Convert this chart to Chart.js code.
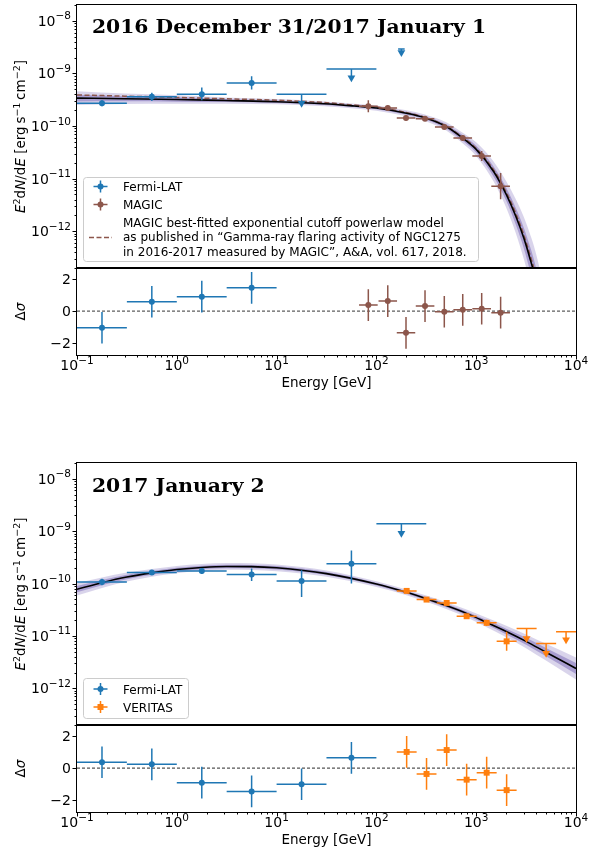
<!DOCTYPE html>
<html>
<head>
<meta charset="utf-8">
<script src="https://cdn.jsdelivr.net/npm/chart.js@4.4.0/dist/chart.umd.min.js"></script>
<style>
  html, body { margin: 0; padding: 0; background: #fff; }
  #wrap { position: relative; width: 590px; height: 850px; }
  canvas { position: absolute; left: 0; top: 0; }
</style>
</head>
<body>
<div id="wrap">
  <canvas id="top" width="590" height="850"></canvas>
  <canvas id="topRes" width="590" height="850"></canvas>
  <canvas id="bot" width="590" height="850"></canvas>
  <canvas id="botRes" width="590" height="850"></canvas>
</div>
<script>
// ---- tick labels / texts ----
const xTickExp = [-1, 0, 1, 2, 3, 4];
const yTickExp = [-12, -11, -10, -9, -8];
const resTicks = [-2, 0, 2];
const title1 = '2016 December 31/2017 January 1';
const title2 = '2017 January 2';
const legend1 = ['Fermi-LAT', 'MAGIC'];
const legend2 = ['Fermi-LAT', 'VERITAS'];
const magicNote = [
  'MAGIC best-fitted exponential cutoff powerlaw model',
  'as published in \u201cGamma-ray flaring activity of NGC1275',
  'in 2016-2017 measured by MAGIC\u201d, A&A, vol. 617, 2018.'
];

// ---- 2016 Dec 31 / 2017 Jan 1 : Fermi-LAT ----
const p1FermiE   = [0.178, 0.562, 1.78, 5.62];
const p1FermiElo = [0.1, 0.316, 1, 3.16];
const p1FermiEhi = [0.316, 1, 3.16, 10];
const p1FermiF   = [2.7e-10, 3.6e-10, 4.0e-10, 6.6e-10];
const p1FermiFlo = [2.37e-10, 3.0e-10, 3.1e-10, 4.93e-10];
const p1FermiFhi = [3.1e-10, 4.3e-10, 5.4e-10, 8.85e-10];
// upper limits
const p1UlE   = [17.8, 56.2, 178];
const p1UlElo = [10, 31.6, 165];
const p1UlEhi = [31.6, 100, 192];
const p1UlF   = [4.0e-10, 1.22e-9, 2.9e-9];
const p1UlTip = [2.7e-10, 8.3e-10, 2.5e-9];
// MAGIC
const p1MagicE   = [83, 130, 198, 307, 479, 733, 1135, 1757];
const p1MagicElo = [67, 105, 160, 248, 386, 591, 915, 1417];
const p1MagicEhi = [103, 161, 245, 381, 594, 909, 1407, 2179];
const p1MagicF   = [2.37e-10, 2.2e-10, 1.42e-10, 1.38e-10, 9.6e-11, 5.9e-11, 2.7e-11, 7.2e-12];
const p1MagicFlo = [1.82e-10, 1.97e-10, 1.27e-10, 1.26e-10, 8.8e-11, 5.2e-11, 2.17e-11, 4.05e-12];
const p1MagicFhi = [3.08e-10, 2.45e-10, 1.58e-10, 1.51e-10, 1.05e-10, 6.7e-11, 3.36e-11, 1.28e-11];
// best fit + bands
const p1FitE   = [0.1, 0.3, 1, 3, 10, 30, 60, 100, 200, 300, 500, 700, 1000, 1500, 2000, 2500, 3000, 3500, 3800, 4500, 5000];
const p1FitF   = [3.4e-10, 3.3e-10, 3.2e-10, 3.05e-10, 2.9e-10, 2.65e-10, 2.4e-10, 2.2e-10, 1.75e-10, 1.45e-10, 9.8e-11, 6.3e-11, 3.6e-11, 1.35e-11, 5e-12, 1.9e-12, 7.4e-13, 2.8e-13, 1.6e-13, 4e-14, 1.6e-14];
const p1MagicModelF = [3.9e-10, 3.7e-10, 3.5e-10, 3.3e-10, 3.1e-10, 2.8e-10, 2.5e-10, 2.3e-10, 1.8e-10, 1.48e-10, 9.9e-11, 6.45e-11, 3.75e-11, 1.45e-11, 5.5e-12, 2.15e-12, 8.5e-13, 3.3e-13, 1.9e-13, 5e-14, 2e-14];
const p1BandOutHi = [4.6e-10, 4.15e-10, 3.85e-10, 3.5e-10, 3.25e-10, 2.94e-10, 2.66e-10, 2.46e-10, 1.99e-10, 1.67e-10, 1.18e-10, 7.9e-11, 4.9e-11, 2.09e-11, 8.9e-12, 4.0e-12, 1.86e-12, 8.3e-13, 5.1e-13, 1.45e-13, 6.4e-14];
const p1BandOutLo = [2.5e-10, 2.62e-10, 2.66e-10, 2.65e-10, 2.59e-10, 2.39e-10, 2.16e-10, 1.96e-10, 1.54e-10, 1.26e-10, 8.2e-11, 5.0e-11, 2.67e-11, 8.7e-12, 2.8e-12, 9.1e-13, 2.95e-13, 9.5e-14, 5.1e-14, 1.1e-14, 4e-15];
const p1BandInHi  = [3.95e-10, 3.7e-10, 3.52e-10, 3.26e-10, 3.07e-10, 2.78e-10, 2.52e-10, 2.33e-10, 1.86e-10, 1.55e-10, 1.08e-10, 7.1e-11, 4.2e-11, 1.69e-11, 6.7e-12, 2.75e-12, 1.17e-12, 4.8e-13, 2.85e-13, 7.6e-14, 3.2e-14];
const p1BandInLo  = [2.93e-10, 2.95e-10, 2.91e-10, 2.85e-10, 2.74e-10, 2.52e-10, 2.29e-10, 2.08e-10, 1.64e-10, 1.36e-10, 8.9e-11, 5.6e-11, 3.1e-11, 1.08e-11, 3.8e-12, 1.31e-12, 4.7e-13, 1.63e-13, 9e-14, 2.1e-14, 8e-15];
// residuals
const p1ResFermi    = [-1.05, 0.59, 0.91, 1.47];
const p1ResFermiErr = [1, 1, 1, 1];
const p1ResMagic    = [0.38, 0.63, -1.37, 0.32, -0.04, 0.08, 0.15, -0.1];
const p1ResMagicErr = [1, 1, 1, 1, 1, 1, 1, 1];

// ---- 2017 Jan 2 : Fermi-LAT ----
const p2FermiE   = [0.178, 0.562, 1.78, 5.62, 17.8, 56.2];
const p2FermiElo = [0.1, 0.316, 1, 3.16, 10, 31.6];
const p2FermiEhi = [0.316, 1, 3.16, 10, 31.6, 100];
const p2FermiF   = [1.07e-10, 1.62e-10, 1.74e-10, 1.49e-10, 1.12e-10, 2.4e-10];
const p2FermiFlo = [9.25e-11, 1.45e-10, 1.53e-10, 1.12e-10, 5.56e-11, 1.0e-10];
const p2FermiFhi = [1.24e-10, 1.81e-10, 1.98e-10, 1.95e-10, 1.79e-10, 4.3e-10];
const p2UlE   = [178];
const p2UlElo = [100];
const p2UlEhi = [316];
const p2UlF   = [1.39e-9];
const p2UlTip = [9.1e-10];
// VERITAS
const p2VerE   = [201, 318, 506, 802, 1273, 2018];
const p2VerElo = [160, 253, 402, 637, 1011, 1603];
const p2VerEhi = [253, 400, 637, 1010, 1603, 2541];
const p2VerF   = [7.25e-11, 4.95e-11, 4.27e-11, 2.38e-11, 1.78e-11, 7.9e-12];
const p2VerFlo = [6.65e-11, 4.54e-11, 3.9e-11, 2.18e-11, 1.55e-11, 5.2e-12];
const p2VerFhi = [7.9e-11, 5.4e-11, 4.65e-11, 2.6e-11, 2.05e-11, 1.2e-11];
const p2VerUlE   = [3200, 5020, 7950];
const p2VerUlElo = [2540, 3985, 6310];
const p2VerUlEhi = [4030, 6325, 10000];
const p2VerUlF   = [1.39e-11, 7.2e-12, 1.2e-11];
const p2VerUlTip = [8.95e-12, 4.7e-12, 8.5e-12];
// best fit + bands
const p2FitE   = [0.1, 0.178, 0.316, 0.562, 1, 1.78, 3.16, 5.62, 10, 31.6, 100, 200, 316, 500, 800, 1260, 2000, 3160, 5000, 10000];
const p2FitF   = [7.8e-11, 1.04e-10, 1.33e-10, 1.6e-10, 1.85e-10, 2.03e-10, 2.12e-10, 2.11e-10, 2.0e-10, 1.55e-10, 9.8e-11, 6.8e-11, 5.15e-11, 3.8e-11, 2.7e-11, 1.83e-11, 1.22e-11, 7.9e-12, 4.9e-12, 2.4e-12];
const p2BandOutHi = [1.03e-10, 1.31e-10, 1.62e-10, 1.9e-10, 2.17e-10, 2.36e-10, 2.46e-10, 2.45e-10, 2.32e-10, 1.78e-10, 1.11e-10, 7.7e-11, 5.9e-11, 4.41e-11, 3.21e-11, 2.25e-11, 1.57e-11, 1.07e-11, 7.1e-12, 3.9e-12];
const p2BandOutLo = [5.9e-11, 8.26e-11, 1.09e-10, 1.35e-10, 1.57e-10, 1.75e-10, 1.83e-10, 1.82e-10, 1.72e-10, 1.35e-10, 8.6e-11, 6.0e-11, 4.49e-11, 3.27e-11, 2.27e-11, 1.49e-11, 9.5e-12, 5.86e-12, 3.39e-12, 1.48e-12];
const p2BandInHi  = [8.95e-11, 1.17e-10, 1.47e-10, 1.74e-10, 2.0e-10, 2.19e-10, 2.29e-10, 2.27e-10, 2.16e-10, 1.66e-10, 1.04e-10, 7.24e-11, 5.52e-11, 4.1e-11, 2.94e-11, 2.03e-11, 1.38e-11, 9.2e-12, 5.9e-12, 3.06e-12];
const p2BandInLo  = [6.8e-11, 9.27e-11, 1.21e-10, 1.47e-10, 1.71e-10, 1.88e-10, 1.97e-10, 1.96e-10, 1.86e-10, 1.45e-10, 9.2e-11, 6.39e-11, 4.8e-11, 3.52e-11, 2.48e-11, 1.65e-11, 1.07e-11, 6.8e-12, 4.1e-12, 1.88e-12];
// residuals
const p2ResFermi      = [0.37, 0.24, -0.92, -1.47, -1.02, 0.65];
const p2ResFermiErr   = [1, 1, 1, 1, 1, 1];
const p2ResVeritas    = [1.02, -0.37, 1.14, -0.73, -0.29, -1.39];
const p2ResVeritasErr = [1, 1, 1, 1, 1, 1];

// ---- styles ----
const FONT = '"DejaVu Sans", sans-serif';
const BLUE = '#1f77b4', BROWN = '#8c564b', ORANGE = '#ff7f0e';
const BAND_OUT = 'rgba(128,112,190,0.30)', BAND_IN = 'rgba(96,74,168,0.40)';

const pts = (xs, ys) => xs.map((x, i) => ({ x, y: ys[i] }));

function lineDs(xs, ys, o) {
  return Object.assign({
    type: 'line', data: pts(xs, ys), pointRadius: 0, borderWidth: 0, fill: false,
    cubicInterpolationMode: 'monotone', clip: 0
  }, o);
}
function band(xs, hi, lo, color, order) {
  return [lineDs(xs, hi, { order }), lineDs(xs, lo, { order, fill: '-1', backgroundColor: color })];
}
function markDs(xs, ys, color, style, r, err, extra) {
  return Object.assign({
    type: 'scatter', data: pts(xs, ys), backgroundColor: color, borderColor: color,
    borderWidth: 0, pointStyle: style, pointRadius: r, order: 1, clip: 0, err
  }, extra);
}
const ulExtra = { pointRotation: 180 };

// error bars, drawn just under each marker dataset
const errorBars = {
  id: 'errorBars',
  beforeDatasetDraw(chart, args) {
    const ds = chart.data.datasets[args.index];
    const e = ds.err;
    if (!e) return;
    const { ctx, chartArea: a } = chart;
    const xs = chart.scales.x, ys = chart.scales.y;
    ctx.save();
    ctx.beginPath(); ctx.rect(a.left, a.top, a.right - a.left, a.bottom - a.top); ctx.clip();
    ctx.strokeStyle = ds.backgroundColor; ctx.lineWidth = 1.5;
    ds.data.forEach((p, i) => {
      const cx = xs.getPixelForValue(p.x);
      const yb = ys.getPixelForValue(e.bar ? e.bar[i] : p.y);
      const lo = e.yerr ? p.y - e.yerr[i] : e.ylo[i];
      const hi = e.yerr ? p.y + e.yerr[i] : e.yhi[i];
      ctx.beginPath();
      ctx.moveTo(xs.getPixelForValue(e.xlo[i]), yb); ctx.lineTo(xs.getPixelForValue(e.xhi[i]), yb);
      ctx.moveTo(cx, ys.getPixelForValue(lo)); ctx.lineTo(cx, ys.getPixelForValue(hi));
      ctx.stroke();
    });
    ctx.restore();
  }
};

// ---- text helpers ----
function rich(ctx, segs, x, y, align, sx) {
  let w = 0;
  segs.forEach(s => { ctx.font = s.f; s.w = ctx.measureText(s.t).width * sx; w += s.w; });
  let cx = align === 'right' ? x - w : align === 'center' ? x - w / 2 : x;
  segs.forEach(s => {
    ctx.save(); ctx.font = s.f; ctx.textAlign = 'left'; ctx.textBaseline = 'alphabetic';
    ctx.translate(cx, y + (s.dy || 0)); ctx.scale(sx, 1); ctx.fillText(s.t, 0, 0); ctx.restore();
    cx += s.w;
  });
  return w;
}
const minus = n => (n < 0 ? '\u2212' + (-n) : String(n));
const pow10 = n => [{ t: '10', f: '14px ' + FONT }, { t: minus(n), f: '10.5px ' + FONT, dy: -6.5 }];

function yLabelMain() {
  const r = '13.5px ' + FONT, it = 'oblique 13.5px ' + FONT, sup = '9.5px ' + FONT;
  return [{ t: 'E', f: it }, { t: '2', f: sup, dy: -5 }, { t: 'd', f: r }, { t: 'N', f: it }, { t: '/d', f: r },
    { t: 'E', f: it }, { t: ' [erg\u2009s', f: r }, { t: '\u22121', f: sup, dy: -5 }, { t: '\u2009cm', f: r },
    { t: '\u22122', f: sup, dy: -5 }, { t: ']', f: r }];
}
function yLabelRes() {
  return [{ t: '\u0394', f: '13.5px ' + FONT }, { t: '\u03c3', f: 'oblique 13.5px ' + FONT }];
}
function rotated(ctx, segs, x, y) {
  ctx.save(); ctx.translate(x, y); ctx.rotate(-Math.PI / 2); rich(ctx, segs, 0, 0, 'center', 1); ctx.restore();
}

function legendMarker(ctx, x, y, color, shape) {
  ctx.save(); ctx.strokeStyle = color; ctx.fillStyle = color; ctx.lineWidth = 1.5;
  ctx.beginPath(); ctx.moveTo(x - 7, y); ctx.lineTo(x + 7, y); ctx.moveTo(x, y - 6); ctx.lineTo(x, y + 6); ctx.stroke();
  ctx.beginPath();
  if (shape === 'rect') ctx.rect(x - 3, y - 3, 6, 6); else ctx.arc(x, y, 3, 0, 2 * Math.PI);
  ctx.fill(); ctx.restore();
}
function legendBox(ctx, x, y, w, h) {
  ctx.save(); ctx.fillStyle = 'rgba(255,255,255,0.8)'; ctx.strokeStyle = '#cccccc'; ctx.lineWidth = 1;
  ctx.beginPath(); ctx.roundRect(x + 0.5, y + 0.5, w, h, 3); ctx.fill(); ctx.stroke(); ctx.restore();
}

const decoCfg = {
  top: { kind: 'main', title: title1, titleY: 33, legend: 1 },
  topRes: { kind: 'res' },
  bot: { kind: 'main', title: title2, titleY: 491.5, legend: 2 },
  botRes: { kind: 'res' }
};

const deco = {
  id: 'deco',
  afterDraw(chart) {
    const cfg = decoCfg[chart.canvas.id];
    const { ctx, chartArea: a } = chart;
    const xs = chart.scales.x, ys = chart.scales.y;
    ctx.save();
    ctx.fillStyle = '#000'; ctx.strokeStyle = '#000'; ctx.lineWidth = 1;
    ctx.strokeRect(a.left - 0.5, a.top - 0.5, a.right - a.left + 1, a.bottom - a.top + 1);
    const tickFont = '14px ' + FONT;
    if (cfg.kind === 'main') {
      // log y ticks
      ctx.beginPath();
      for (let n = -13; n <= -8; n++) {
        for (let k = 1; k <= 9; k++) {
          const v = k * Math.pow(10, n);
          if (v < ys.min || v > ys.max) continue;
          const y = Math.round(ys.getPixelForValue(v)) + 0.5;
          const len = k === 1 ? 4.5 : 2.5;
          ctx.moveTo(a.left - len, y); ctx.lineTo(a.left, y);
        }
      }
      ctx.stroke();
      yTickExp.forEach(n => {
        const y = ys.getPixelForValue(Math.pow(10, n));
        rich(ctx, pow10(n), a.left - 6, y + 5, 'right', 1);
      });
      rotated(ctx, yLabelMain(), 25, (a.top + a.bottom) / 2);
      // title
      ctx.save();
      ctx.font = 'bold 19px "DejaVu Serif", serif';
      const tw = ctx.measureText(title1).width;
      const sx = 394 / tw;
      ctx.translate(92, cfg.titleY); ctx.scale(sx, 1); ctx.fillText(cfg.title, 0, 0);
      ctx.restore();
      // legend
      const lf = '12px ' + FONT;
      if (cfg.legend === 1) {
        legendBox(ctx, 83, 177, 395, 84);
        legendMarker(ctx, 100.5, 186.5, BLUE, 'circle');
        legendMarker(ctx, 100.5, 204.5, BROWN, 'circle');
        ctx.save(); ctx.strokeStyle = BROWN; ctx.lineWidth = 1.5; ctx.setLineDash([5, 2.5]);
        ctx.beginPath(); ctx.moveTo(89, 237.5); ctx.lineTo(112, 237.5); ctx.stroke(); ctx.restore();
        rich(ctx, [{ t: legend1[0], f: lf }], 123, 191, 'left', 1);
        rich(ctx, [{ t: legend1[1], f: lf }], 123, 208.5, 'left', 1);
        magicNote.forEach((s, i) => rich(ctx, [{ t: s, f: lf }], 123, 226.5 + i * 14.7, 'left', 1));
      } else {
        legendBox(ctx, 83, 678, 105, 40);
        legendMarker(ctx, 100.5, 689, BLUE, 'circle');
        legendMarker(ctx, 100.5, 707, ORANGE, 'rect');
        rich(ctx, [{ t: legend2[0], f: lf }], 123, 693.5, 'left', 1);
        rich(ctx, [{ t: legend2[1], f: lf }], 123, 711.5, 'left', 1);
      }
    } else {
      // linear y ticks
      ctx.beginPath();
      resTicks.forEach(v => {
        const y = Math.round(ys.getPixelForValue(v)) + 0.5;
        ctx.moveTo(a.left - 4.5, y); ctx.lineTo(a.left, y);
      });
      // log x ticks
      for (let n = -1; n <= 4; n++) {
        for (let k = 1; k <= 9; k++) {
          const v = k * Math.pow(10, n);
          if (v < xs.min * 0.999 || v > xs.max * 1.001) continue;
          const x = Math.round(xs.getPixelForValue(v)) + 0.5;
          const len = k === 1 ? 4.5 : 2.5;
          ctx.moveTo(x, a.bottom); ctx.lineTo(x, a.bottom + len);
        }
      }
      ctx.stroke();
      resTicks.forEach(v => {
        rich(ctx, [{ t: minus(v), f: tickFont }], a.left - 6, ys.getPixelForValue(v) + 5, 'right', 1);
      });
      xTickExp.forEach(n => {
        rich(ctx, pow10(n), xs.getPixelForValue(Math.pow(10, n)), a.bottom + 15, 'center', 1);
      });
      rich(ctx, [{ t: 'Energy [GeV]', f: '13.5px ' + FONT }], (a.left + a.right) / 2, a.bottom + 32, 'center', 1);
      rotated(ctx, yLabelRes(), 25, (a.top + a.bottom) / 2);
    }
    ctx.restore();
  }
};

function mkChart(id, area, datasets, yScale) {
  return new Chart(document.getElementById(id), {
    type: 'scatter',
    data: { datasets },
    options: {
      responsive: false, animation: false, devicePixelRatio: 1, events: [],
      layout: { padding: { left: area[0], top: area[1], right: 590 - area[2], bottom: 850 - area[3] } },
      scales: {
        x: { type: 'logarithmic', min: 0.1, max: 1e4, display: false, bounds: 'data' },
        y: Object.assign({ display: false, bounds: 'data' }, yScale)
      },
      plugins: { legend: { display: false }, tooltip: { enabled: false } }
    },
    plugins: [errorBars, deco]
  });
}

const logY = { type: 'logarithmic', min: 2e-13, max: 2e-8 };
const resY = { type: 'linear', min: -2.77, max: 2.72 };

// top panel
mkChart('top', [77, 5, 576, 268], [
  ...band(p1FitE, p1BandOutHi, p1BandOutLo, BAND_OUT, 8),
  ...band(p1FitE, p1BandInHi, p1BandInLo, BAND_IN, 7),
  lineDs(p1FitE, p1MagicModelF, { borderColor: BROWN, borderWidth: 1.5, borderDash: [5, 2.5], order: 4 }),
  lineDs(p1FitE, p1FitF, { borderColor: '#000', borderWidth: 1.6, order: 3 }),
  markDs(p1FermiE, p1FermiF, BLUE, 'circle', 3, { xlo: p1FermiElo, xhi: p1FermiEhi, ylo: p1FermiFlo, yhi: p1FermiFhi }),
  markDs(p1UlE, p1UlTip, BLUE, 'triangle', 4.5, { xlo: p1UlElo, xhi: p1UlEhi, ylo: p1UlTip, yhi: p1UlF, bar: p1UlF }, ulExtra),
  markDs(p1MagicE, p1MagicF, BROWN, 'circle', 3, { xlo: p1MagicElo, xhi: p1MagicEhi, ylo: p1MagicFlo, yhi: p1MagicFhi })
], logY);

mkChart('topRes', [77, 268, 576, 355], [
  lineDs([0.1, 1e4], [0, 0], { borderColor: '#000', borderWidth: 0.8, borderDash: [3, 2], order: 5 }),
  markDs(p1FermiE, p1ResFermi, BLUE, 'circle', 3, { xlo: p1FermiElo, xhi: p1FermiEhi, yerr: p1ResFermiErr }),
  markDs(p1MagicE, p1ResMagic, BROWN, 'circle', 3, { xlo: p1MagicElo, xhi: p1MagicEhi, yerr: p1ResMagicErr })
], resY);

// bottom panel
mkChart('bot', [77, 463, 576, 725], [
  ...band(p2FitE, p2BandOutHi, p2BandOutLo, BAND_OUT, 8),
  ...band(p2FitE, p2BandInHi, p2BandInLo, BAND_IN, 7),
  lineDs(p2FitE, p2FitF, { borderColor: '#000', borderWidth: 1.6, order: 3 }),
  markDs(p2FermiE, p2FermiF, BLUE, 'circle', 3, { xlo: p2FermiElo, xhi: p2FermiEhi, ylo: p2FermiFlo, yhi: p2FermiFhi }),
  markDs(p2UlE, p2UlTip, BLUE, 'triangle', 4.5, { xlo: p2UlElo, xhi: p2UlEhi, ylo: p2UlTip, yhi: p2UlF, bar: p2UlF }, ulExtra),
  markDs(p2VerE, p2VerF, ORANGE, 'rect', 4.2, { xlo: p2VerElo, xhi: p2VerEhi, ylo: p2VerFlo, yhi: p2VerFhi }),
  markDs(p2VerUlE, p2VerUlTip, ORANGE, 'triangle', 4.5, { xlo: p2VerUlElo, xhi: p2VerUlEhi, ylo: p2VerUlTip, yhi: p2VerUlF, bar: p2VerUlF }, ulExtra)
], logY);

mkChart('botRes', [77, 725, 576, 812], [
  lineDs([0.1, 1e4], [0, 0], { borderColor: '#555', borderWidth: 1.2, borderDash: [3, 2], order: 5 }),
  markDs(p2FermiE, p2ResFermi, BLUE, 'circle', 3, { xlo: p2FermiElo, xhi: p2FermiEhi, yerr: p2ResFermiErr }),
  markDs(p2VerE, p2ResVeritas, ORANGE, 'rect', 4.2, { xlo: p2VerElo, xhi: p2VerEhi, yerr: p2ResVeritasErr })
], resY);
</script>
</body>
</html>
